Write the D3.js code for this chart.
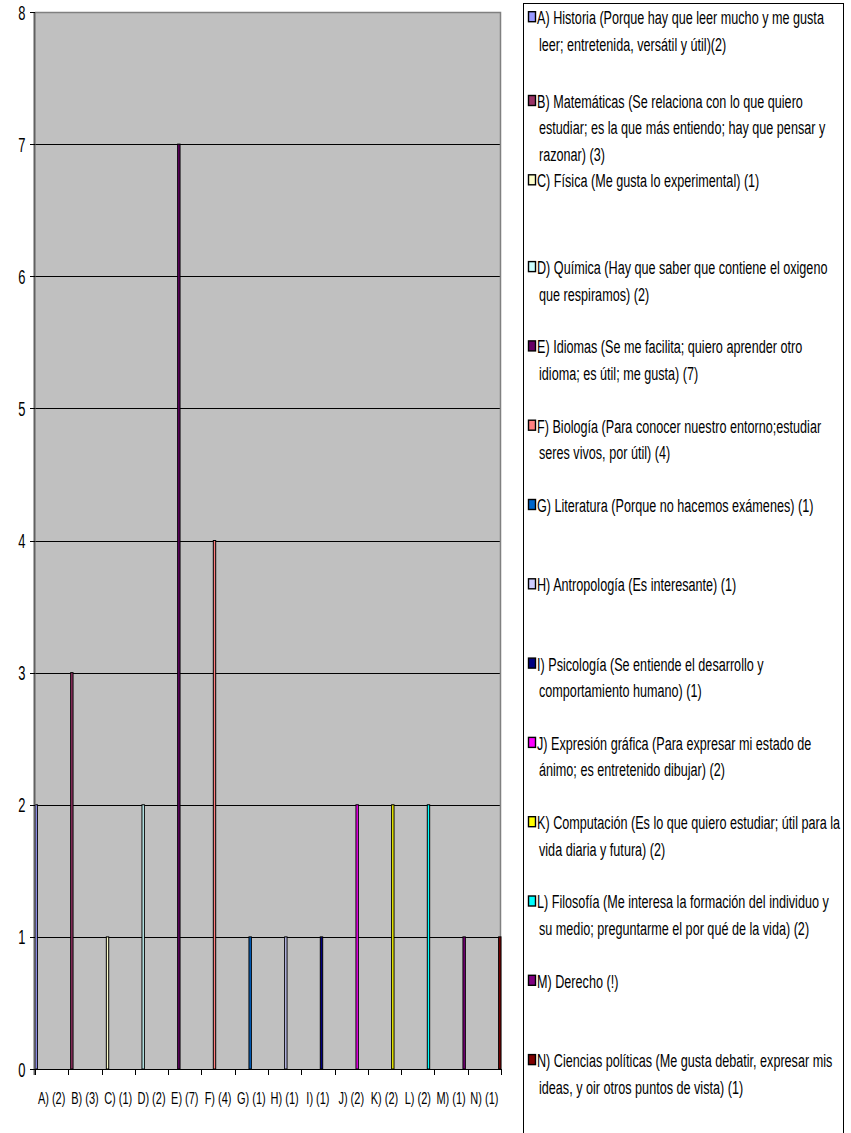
<!DOCTYPE html>
<html>
<head>
<meta charset="utf-8">
<script src="https://cdn.jsdelivr.net/npm/d3@7"></script>
<style>
  html, body { margin: 0; padding: 0; background: #ffffff; }
  svg { display: block; }
  text { font-family: "Liberation Sans", Arial, sans-serif; fill: #000; }
</style>
</head>
<body>
<svg id="chart" width="851" height="1133"></svg>
<script>
// Subjects and the number of answers for each one
const categories = ["A) (2)", "B) (3)", "C) (1)", "D) (2)", "E) (7)", "F) (4)", "G) (1)",
                    "H) (1)", "I) (1)", "J) (2)", "K) (2)", "L) (2)", "M) (1)", "N) (1)"];

const seriesLabels = [
  "A) Historia (Porque hay que leer mucho y me gusta\nleer; entretenida, versátil y útil)(2)",
  "B) Matemáticas (Se relaciona con lo que quiero\nestudiar; es la que más entiendo; hay que pensar y\nrazonar) (3)",
  "C) Física (Me gusta lo experimental) (1)",
  "D) Química (Hay que saber que contiene el oxigeno\nque respiramos) (2)",
  "E) Idiomas (Se me facilita; quiero aprender otro\nidioma; es útil; me gusta) (7)",
  "F) Biología (Para conocer nuestro entorno;estudiar\nseres vivos, por útil) (4)",
  "G) Literatura (Porque no hacemos exámenes) (1)",
  "H) Antropología (Es interesante) (1)",
  "I) Psicología (Se entiende el desarrollo y\ncomportamiento humano) (1)",
  "J) Expresión gráfica (Para expresar mi estado de\nánimo; es entretenido dibujar) (2)",
  "K) Computación (Es lo que quiero estudiar; útil para la\nvida diaria y futura) (2)",
  "L) Filosofía (Me interesa la formación del individuo y\nsu medio; preguntarme el por qué de la vida) (2)",
  "M) Derecho (!)",
  "N) Ciencias políticas (Me gusta debatir, expresar mis\nideas, y oir otros puntos de vista) (1)"
];

const values = [2, 3, 1, 2, 7, 4, 1, 1, 1, 2, 2, 2, 1, 1];

const seriesColors = ["#9999FF", "#993366", "#FFFFCC", "#CCFFFF", "#660066", "#FF8080", "#0066CC",
                      "#CCCCFF", "#000080", "#FF00FF", "#FFFF00", "#00FFFF", "#800080", "#800000"];

const yTickValues = [0, 1, 2, 3, 4, 5, 6, 7, 8];

// ---- layout ----
const svg = d3.select("#chart");
const plot = { left: 35, right: 501, top: 12, bottom: 1069 };

// tall, narrow lettering: each text style gets a font size and a horizontal squeeze
function makeStyle(size, sample, width) {
  const probe = svg.append("text").attr("font-size", size).text(sample);
  const sx = width / probe.node().getComputedTextLength();
  probe.remove();
  return (sel, x, y) => sel.attr("transform", `translate(${x},${y}) scale(${sx},1)`)
                           .attr("font-size", size);
}
const legendText = makeStyle(19, "A) Historia (Porque hay que leer mucho y me gusta", 287);
const xLabelText = makeStyle(16.5, "A) (2)", 27.5);
const yLabelText = makeStyle(19.5, "8", 7.2);

const x0 = d3.scaleBand().domain(categories).range([plot.left, plot.right]).padding(0);
const x1 = d3.scaleBand().domain(d3.range(seriesLabels.length)).range([0, x0.bandwidth()]).padding(0);
const y = d3.scaleLinear().domain([0, 8]).range([plot.bottom, plot.top]);

// plot background
svg.append("rect")
  .attr("x", plot.left).attr("y", plot.top)
  .attr("width", plot.right - plot.left).attr("height", plot.bottom - plot.top)
  .attr("fill", "#C0C0C0");

// horizontal gridlines
svg.append("g").selectAll("line")
  .data(yTickValues.filter(v => v > 0 && v < 8))
  .join("line")
  .attr("x1", plot.left).attr("x2", plot.right)
  .attr("y1", d => Math.round(y(d)) + 0.5).attr("y2", d => Math.round(y(d)) + 0.5)
  .attr("stroke", "#000").attr("stroke-width", 1);

// plot border (top and right)
svg.append("path")
  .attr("d", `M${plot.left},${plot.top + 0.5}H${plot.right - 0.5}V${plot.bottom}`)
  .attr("fill", "none").attr("stroke", "#808080").attr("stroke-width", 1.5);

// bars: each subject is its own series, clustered in the category bands
svg.append("g").selectAll("rect")
  .data(values.map((v, i) => ({ v, i })))
  .join("rect")
  .attr("x", d => x0(categories[d.i]) + x1(d.i))
  .attr("y", d => y(d.v))
  .attr("width", x1.bandwidth())
  .attr("height", d => y(0) - y(d.v))
  .attr("fill", d => seriesColors[d.i])
  .attr("stroke", "#000").attr("stroke-width", 1);

// y axis
const yAxis = svg.append("g");
yAxis.append("line")
  .attr("x1", plot.left - 0.5).attr("x2", plot.left - 0.5)
  .attr("y1", plot.top).attr("y2", plot.bottom + 6)
  .attr("stroke", "#606060").attr("stroke-width", 2);
yAxis.selectAll(".tick").data(yTickValues).join("line")
  .attr("x1", plot.left - 5).attr("x2", plot.left)
  .attr("y1", d => Math.round(y(d)) + 0.5).attr("y2", d => Math.round(y(d)) + 0.5)
  .attr("stroke", "#000");
yAxis.selectAll("text").data(yTickValues).join("text")
  .attr("text-anchor", "end")
  .each(function (d) { yLabelText(d3.select(this), 25.5, y(d) + 7.5); })
  .text(d => d);

// x axis
const xAxis = svg.append("g");
xAxis.append("line")
  .attr("x1", plot.left).attr("x2", plot.right)
  .attr("y1", plot.bottom + 0.5).attr("y2", plot.bottom + 0.5)
  .attr("stroke", "#000");
xAxis.selectAll(".tick").data(categories.concat(["end"])).join("line")
  .attr("x1", (d, i) => Math.round(i < categories.length ? x0(d) : plot.right) + 0.5)
  .attr("x2", (d, i) => Math.round(i < categories.length ? x0(d) : plot.right) + 0.5)
  .attr("y1", plot.bottom).attr("y2", plot.bottom + 6)
  .attr("stroke", "#000");
xAxis.selectAll("text").data(categories).join("text")
  .attr("text-anchor", "middle")
  .each(function (d) { xLabelText(d3.select(this), x0(d) + x0.bandwidth() / 2, 1104); })
  .text(d => d);

// legend
const legend = { left: 523.5, top: 3.5, right: 843.5, bottom: 1140, step: 79.3, first: 29.2, lineH: 26.5 };
// the first rows sit higher, packed toward the top of the box
const legendLift = i => (i === 0 ? 12 : i < 3 ? 7.5 : 0);
svg.append("rect")
  .attr("x", legend.left).attr("y", legend.top)
  .attr("width", legend.right - legend.left).attr("height", legend.bottom - legend.top)
  .attr("fill", "#fff").attr("stroke", "#000").attr("stroke-width", 1);

const entries = svg.append("g").selectAll("g")
  .data(seriesLabels.map((label, i) => ({ label, i })))
  .join("g")
  .attr("transform", d => `translate(0,${legend.first + legend.step * d.i - legendLift(d.i)})`);

entries.append("rect")
  .attr("x", 528.5).attr("y", -5.5)
  .attr("width", 7).attr("height", 10)
  .attr("fill", d => seriesColors[d.i])
  .attr("stroke", "#000").attr("stroke-width", 1.4);

entries.each(function (d) {
  const g = d3.select(this);
  d.label.split("\n").forEach((line, k) => {
    legendText(g.append("text"), k === 0 ? 537 : 539, 6.9 + k * legend.lineH).text(line);
  });
});
</script>
</body>
</html>
